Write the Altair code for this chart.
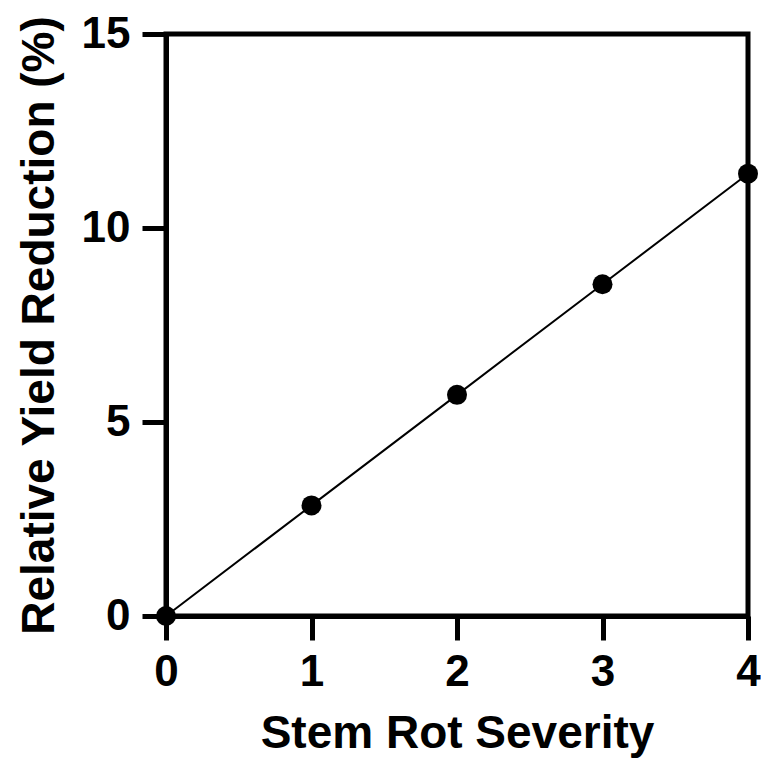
import altair as alt
import pandas as pd

severity = [0, 1, 2, 3, 4]
reduction = [0.0, 2.85, 5.7, 8.55, 11.4]

df = pd.DataFrame({"Severity": severity, "Reduction": reduction})

FONT = "Liberation Sans"

x = alt.X("Severity:Q", scale=alt.Scale(domain=[0, 4], nice=False),
          axis=alt.Axis(values=[0, 1, 2, 3, 4], title="Stem Rot Severity", grid=False,
                        format="d", labelPadding=10, titlePadding=17,
                        labelFlush=False, labelOverlap=False))
y = alt.Y("Reduction:Q", scale=alt.Scale(domain=[0, 15], nice=False),
          axis=alt.Axis(values=[0, 5, 10, 15], title="Relative Yield Reduction (%)", grid=False,
                        format="d", labelPadding=12, titlePadding=18,
                        labelFlush=False, labelOverlap=False))

line = alt.Chart(df).mark_line(color="black", strokeWidth=2, clip=False).encode(x=x, y=y)
pts = alt.Chart(df).mark_circle(color="black", opacity=1, size=400, clip=False).encode(x=x, y=y)

chart = (line + pts).properties(
    width=582, height=582,
    autosize=alt.AutoSizeParams(type="none"),
    padding={"left": 158, "top": 26, "right": 13, "bottom": 145},
).configure_view(
    stroke="black", strokeWidth=5
).configure_axis(
    domainColor="black", domainWidth=5,
    tickColor="black", tickWidth=5, tickSize=24,
    labelFont=FONT, labelFontSize=44, labelFontWeight="bold", labelColor="black",
    titleFont=FONT, titleFontSize=46, titleFontWeight="bold", titleColor="black",
)

chart.save("out.html", embed_options={"renderer": "svg", "actions": False})
